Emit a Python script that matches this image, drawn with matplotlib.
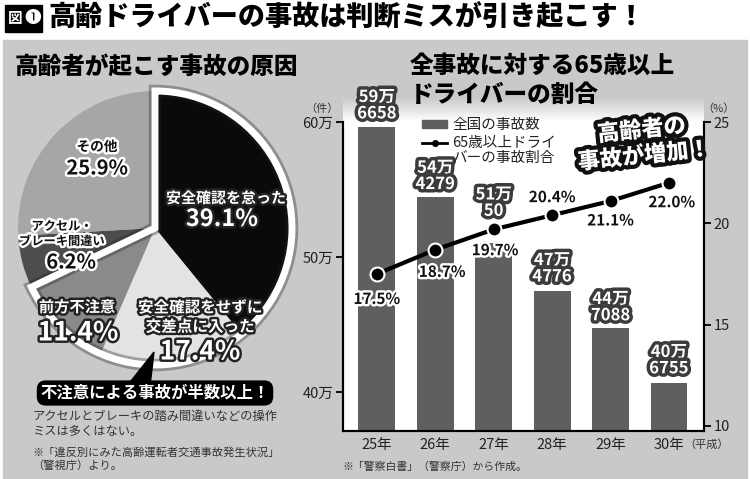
import matplotlib
matplotlib.use("Agg")
import matplotlib.pyplot as plt
import matplotlib.patheffects as pe
from matplotlib.patches import Rectangle, Wedge, Polygon
from matplotlib.lines import Line2D
from matplotlib.ticker import FuncFormatter
import numpy as np

plt.rcParams['font.family'] = ['Noto Sans CJK JP', 'DejaVu Sans']

# 円グラフ: 高齢者が起こす事故の原因
cause_labels = ["安全確認を怠った", "安全確認をせずに\n交差点に入った", "前方不注意",
                "アクセル・\nブレーキ間違い", "その他"]
cause_share = [39.1, 17.4, 11.4, 6.2, 25.9]

# 棒グラフ + 折れ線
years = ["25年", "26年", "27年", "28年", "29年", "30年"]
accidents = [596658, 544279, 510050, 474776, 447088, 406755]
senior_share = [17.5, 18.7, 19.7, 20.4, 21.1, 22.0]
legend_labels = ["全国の事故数", "65歳以上ドライ\nバーの事故割合"]

W, H = 750, 479
BG = '#c9c9c9'
BAR = '#5f5f5f'


def P(x, y):
    # ピクセル座標 -> figure座標
    return (x / W, 1 - y / H)


halo_dark = [pe.withStroke(linewidth=3.5, foreground='#222222')]
halo_light = [pe.withStroke(linewidth=3.5, foreground='white')]

fig = plt.figure(figsize=(7.5, 4.79), dpi=100)
fig.patch.set_facecolor('white')
fig.add_artist(Rectangle(P(3, 479), 744 / W, 439 / H, transform=fig.transFigure,
                         color=BG, zorder=-2))

# タイトル
fig.add_artist(Rectangle(P(5, 32), 37 / W, 27 / H, transform=fig.transFigure,
                         color='black', zorder=1))
fig.text(*P(15, 18.5), "図", color='white', fontsize=10.5, fontweight='bold',
         ha='center', va='center')
fig.text(*P(33, 18.5), "❶", color='white', fontsize=12, ha='center', va='center')
fig.text(*P(48, 18), "高齢ドライバーの事故は判断ミスが引き起こす！", fontsize=19.5,
         fontweight='heavy', ha='left', va='center')

fig.text(*P(15, 66), "高齢者が起こす事故の原因", fontsize=17, fontweight='heavy',
         ha='left', va='center')
fig.text(*P(410, 65), "全事故に対する65歳以上", fontsize=17, fontweight='heavy',
         ha='left', va='center')
fig.text(*P(410, 95), "ドライバーの割合", fontsize=17, fontweight='heavy',
         ha='left', va='center')

# ---- 円グラフ ----
cx, cy, r = 155, 228, 137
axp = fig.add_axes([(cx - 150) / W, 1 - (cy + 150) / H, 300 / W, 300 / H])
pie_colors = ['#0a0a0a', '#e3e3e3', '#8a8a8a', '#4d4d4d', '#a6a6a6']
axp.pie(cause_share, colors=pie_colors, startangle=90, counterclock=False,
        radius=1, wedgeprops=dict(linewidth=0))
grp = sum(cause_share[:3]) / sum(cause_share) * 360
axp.add_patch(Wedge((0, 0), 1, 90 - grp, 90, fill=False, ec='#222222', lw=9,
                    alpha=0.35, joinstyle='miter'))
axp.add_patch(Wedge((0, 0), 1, 90 - grp, 90, fill=False, ec='white', lw=5,
                    joinstyle='miter'))
axp.set_xlim(-150 / r, 150 / r)
axp.set_ylim(-150 / r, 150 / r)
axp.set_aspect('equal')
axp.axis('off')

# 円グラフのラベル
fig.text(*P(226, 198), cause_labels[0], color='white', fontsize=10.8,
         fontweight='bold', ha='center', va='center', path_effects=halo_dark)
fig.text(*P(222, 219), f"{cause_share[0]}%", color='white', fontsize=17,
         fontweight='bold', ha='center', va='center', path_effects=halo_dark)
fig.text(*P(200, 317), cause_labels[1], color='white', fontsize=11.2,
         fontweight='bold', ha='center', va='center', linespacing=1.25,
         path_effects=halo_dark)
fig.text(*P(200, 352), f"{cause_share[1]}%", color='white', fontsize=19,
         fontweight='bold', ha='center', va='center', path_effects=halo_dark)
fig.text(*P(77, 307), cause_labels[2], color='white', fontsize=11,
         fontweight='bold', ha='center', va='center', path_effects=halo_dark)
fig.text(*P(78, 333), f"{cause_share[2]}%", color='white', fontsize=19,
         fontweight='bold', ha='center', va='center', path_effects=halo_dark)
fig.text(*P(62, 234), cause_labels[3], color='#111111', fontsize=8.8,
         fontweight='bold', ha='center', va='center', linespacing=1.2,
         path_effects=halo_light)
fig.text(*P(71, 262), f"{cause_share[3]}%", color='#111111', fontsize=14.5,
         fontweight='bold', ha='center', va='center', path_effects=halo_light)
fig.text(*P(97, 147), cause_labels[4], color='#111111', fontsize=9.8,
         fontweight='bold', ha='center', va='center', path_effects=halo_light)
fig.text(*P(97, 168), f"{cause_share[4]}%", color='#111111', fontsize=14.5,
         fontweight='bold', ha='center', va='center', path_effects=halo_light)

# 吹き出し
fig.add_artist(Polygon([P(127, 386), P(150, 386), P(154, 352)],
                       transform=fig.transFigure, color='black', zorder=2))
fig.text(*P(155, 393), "不注意による事故が半数以上！", color='white', fontsize=11.8,
         fontweight='bold', ha='center', va='center',
         bbox=dict(boxstyle='round,pad=0.22,rounding_size=0.55', fc='black', ec='none'))

fig.text(*P(32, 424), "アクセルとブレーキの踏み間違いなどの操作\nミスは多くはない。",
         color='#333333', fontsize=8.8, ha='left', va='center', linespacing=1.25)
fig.text(*P(32, 459), "※「違反別にみた高齢運転者交通事故発生状況」\n（警視庁）より。",
         color='#333333', fontsize=8.1, ha='left', va='center', linespacing=1.35)

# ---- 棒グラフ ----
gax = fig.add_axes([343 / W, 1 - 122 / H, 361 / W, 24 / H])
bg_rgb = np.array(matplotlib.colors.to_rgb(BG))
t = np.linspace(0, 1, 30)[:, None, None]
gax.imshow(bg_rgb * (1 - t) + np.ones(3) * t, aspect='auto')
gax.axis('off')
gax.set_zorder(-1)

ax = fig.add_axes([343 / W, 1 - 431 / H, 361 / W, 309 / H])
ax.set_facecolor('white')
ax2 = ax.twinx()
x = np.arange(len(years))
ax.bar(x, accidents, width=0.63, color=BAR, zorder=2)
ax.set_xlim(-0.58, 5.6)
ax.set_ylim(371100, 600000)
ax.set_xticks(x)
ax.set_xticklabels(years)
ax.set_yticks([400000, 500000, 600000])
ax.yaxis.set_major_formatter(FuncFormatter(lambda v, _: f"{int(round(v / 10000))}万"))
ax.tick_params(axis='x', length=0, pad=5, labelsize=10.5, labelcolor='#222222')
ax.tick_params(axis='y', direction='out', length=5, width=1.3, pad=2,
               labelsize=10.5, labelcolor='#222222')

ax2.plot(x, senior_share, color='black', lw=3, marker='o', ms=10, mfc='black',
         mec='white', mew=1.5, zorder=5)
ax2.set_ylim(9.75, 25)
ax2.set_yticks([10, 15, 20, 25])
ax2.tick_params(axis='y', direction='out', length=5, width=1.3, pad=2,
                labelsize=10.5, labelcolor='#222222')

for a in (ax, ax2):
    a.spines['top'].set_visible(False)
    for s in ('left', 'right', 'bottom'):
        a.spines[s].set_linewidth(1.5)

bar_offsets = [3, 3, 17, 4, 3, 4]
for i, v in enumerate(accidents):
    ax.annotate(f"{v // 10000}万\n{v % 10000}", (i, v), xytext=(0, bar_offsets[i]),
                textcoords='offset points', ha='center', va='bottom', color='white',
                fontsize=12, fontweight='bold', linespacing=0.88,
                path_effects=[pe.withStroke(linewidth=5, foreground='#3c3c3c')],
                annotation_clip=False, zorder=6)

pct_offsets = [(0, -18), (5, -16), (1, -15), (0, 13), (0, -14), (2, -14)]
for i, s in enumerate(senior_share):
    ax2.annotate(f"{s:.1f}%", (i, s), xytext=pct_offsets[i], textcoords='offset points',
                 ha='center', va='center', fontsize=11, fontweight='bold',
                 color='#111111', path_effects=halo_light, zorder=7)

# 凡例
fig.add_artist(Rectangle(P(422, 128), 25 / W, 8 / H, transform=fig.transFigure,
                         color=BAR, zorder=3))
fig.add_artist(Line2D([422 / W, 447 / W], [1 - 143 / H, 1 - 143 / H],
                      transform=fig.transFigure, color='black', lw=2, zorder=3))
fig.add_artist(Line2D([434.5 / W], [1 - 143 / H], transform=fig.transFigure,
                      color='black', marker='o', ms=4, zorder=3))
fig.text(*P(452, 125), legend_labels[0], fontsize=10.5, color='#222222',
         ha='left', va='center')
fig.text(*P(452, 150.5), legend_labels[1], fontsize=10.5, color='#222222',
         ha='left', va='center', linespacing=1.1)

fig.text(*P(643, 143), "高齢者の\n事故が増加！", rotation=6, color='white', fontsize=16,
         fontweight='heavy', ha='center', va='center', multialignment='center',
         linespacing=1.15, path_effects=[pe.withStroke(linewidth=6, foreground='#111111')])

fig.text(*P(322, 109), "（件）", fontsize=8, color='#333333', ha='center', va='center')
fig.text(*P(718, 109), "（%）", fontsize=8, color='#333333', ha='center', va='center')
fig.text(*P(707, 445), "（平成）", fontsize=8, color='#333333', ha='center', va='center')
fig.text(*P(343, 467), "※「警察白書」（警察庁）から作成。", fontsize=7.8, color='#333333',
         ha='left', va='center')

fig.savefig("out.png", dpi=100)
